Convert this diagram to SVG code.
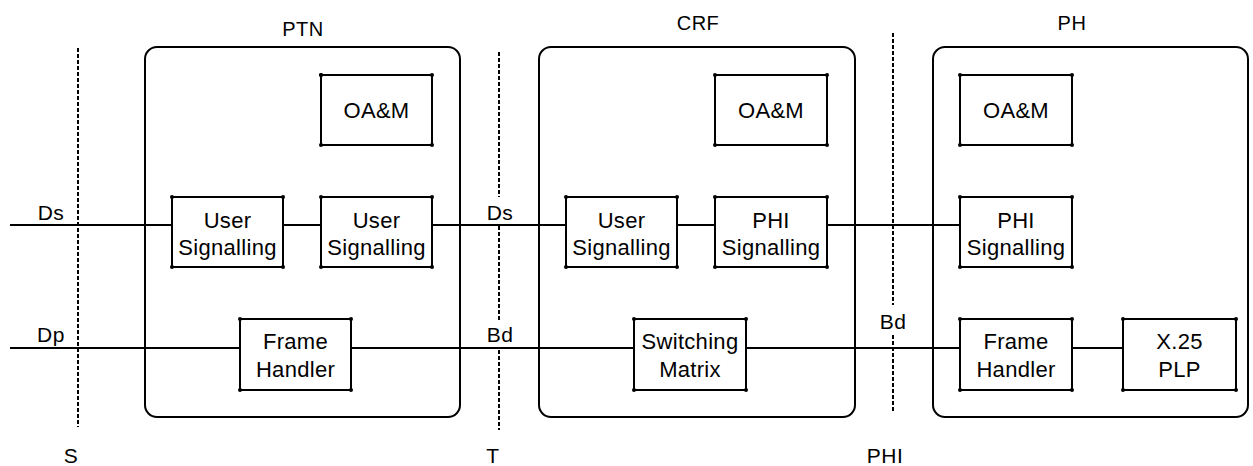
<svg xmlns="http://www.w3.org/2000/svg" width="1253" height="466" viewBox="0 0 1253 466">
<style>
text{font-family:"Liberation Sans",Arial,sans-serif;fill:#000;text-anchor:middle}
.bl{font-size:22px;letter-spacing:0.3px}
.lb{font-size:21px;letter-spacing:0.5px}
.cont{fill:none;stroke:#000;stroke-width:2}
.box{fill:#fff;stroke:#000;stroke-width:2}
.dot{fill:#000}
.ln{stroke:#000;stroke-width:1.8;fill:none}
.dash{stroke:#000;stroke-width:2;stroke-dasharray:4 2;fill:none}
</style>
<defs>
<marker id="cd" viewBox="-3 -3 6 6" markerWidth="6" markerHeight="6" markerUnits="userSpaceOnUse" overflow="visible">
<circle cx="0" cy="0" r="2" fill="#000"/>
</marker>
</defs>
<g id="containers">
<g id="PTN"><rect class="cont" x="145" y="47" width="315" height="370" rx="12"/><text class="lb" x="303" y="36" style="font-size:20px">PTN</text></g>
<g id="CRF"><rect class="cont" x="539" y="47" width="316" height="370" rx="12"/><text class="lb" x="698" y="30" style="font-size:20px">CRF</text></g>
<g id="PH"><rect class="cont" x="933" y="47" width="315" height="370" rx="12"/><text class="lb" x="1072" y="30" style="font-size:20px">PH</text></g>
</g>
<g id="interfaces">
<line class="dash" x1="78" y1="48" x2="78" y2="427"/>
<line class="dash" x1="499" y1="52" x2="499" y2="197"/>
<line class="dash" x1="499" y1="226" x2="499" y2="320"/>
<line class="dash" x1="499" y1="350" x2="499" y2="430"/>
<line class="dash" x1="893" y1="33" x2="893" y2="305"/>
<line class="dash" x1="893" y1="335" x2="893" y2="412"/>
<text class="lb" x="71" y="463">S</text>
<text class="lb" x="493" y="463">T</text>
<text class="lb" x="885" y="463">PHI</text>
</g>
<g id="connectors">
<line class="ln" x1="10" y1="225" x2="172" y2="225"/>
<line class="ln" x1="283" y1="225" x2="321" y2="225"/>
<line class="ln" x1="432" y1="225" x2="566" y2="225"/>
<line class="ln" x1="677" y1="225" x2="715" y2="225"/>
<line class="ln" x1="827" y1="225" x2="960" y2="225"/>
<line class="ln" x1="10" y1="348" x2="240" y2="348"/>
<line class="ln" x1="351" y1="348" x2="634" y2="348"/>
<line class="ln" x1="746" y1="348" x2="960" y2="348"/>
<line class="ln" x1="1072" y1="348" x2="1123" y2="348"/>
<text class="lb" x="51" y="220">Ds</text>
<text class="lb" x="51" y="342">Dp</text>
<text class="lb" x="500" y="220">Ds</text>
<text class="lb" x="500" y="342">Bd</text>
<text class="lb" x="893" y="329">Bd</text>
</g>
<g id="ptn-oam"><path class="box" d="M321,75 H432 V145 H321 Z M321,75" marker-start="url(#cd)"/><path d="M321,75 L432,75 L432,145 L321,145" fill="none" stroke="none" marker-start="url(#cd)" marker-mid="url(#cd)" marker-end="url(#cd)"/><text class="bl" x="376.5" y="118">OA&amp;M</text></g>
<g id="ptn-us1"><path class="box" d="M172,197 H283 V267 H172 Z"/><path d="M172,197 L283,197 L283,267 L172,267" fill="none" stroke="none" marker-start="url(#cd)" marker-mid="url(#cd)" marker-end="url(#cd)"/><text class="bl" x="227.5" y="228">User</text><text class="bl" x="227.5" y="255">Signalling</text></g>
<g id="ptn-us2"><path class="box" d="M321,197 H432 V267 H321 Z"/><path d="M321,197 L432,197 L432,267 L321,267" fill="none" stroke="none" marker-start="url(#cd)" marker-mid="url(#cd)" marker-end="url(#cd)"/><text class="bl" x="376.5" y="228">User</text><text class="bl" x="376.5" y="255">Signalling</text></g>
<g id="ptn-fh"><path class="box" d="M240,319 H351 V390 H240 Z"/><path d="M240,319 L351,319 L351,390 L240,390" fill="none" stroke="none" marker-start="url(#cd)" marker-mid="url(#cd)" marker-end="url(#cd)"/><text class="bl" x="295.5" y="349">Frame</text><text class="bl" x="295.5" y="377">Handler</text></g>
<g id="crf-oam"><path class="box" d="M715,75 H827 V145 H715 Z"/><path d="M715,75 L827,75 L827,145 L715,145" fill="none" stroke="none" marker-start="url(#cd)" marker-mid="url(#cd)" marker-end="url(#cd)"/><text class="bl" x="771" y="118">OA&amp;M</text></g>
<g id="crf-us"><path class="box" d="M566,197 H677 V267 H566 Z"/><path d="M566,197 L677,197 L677,267 L566,267" fill="none" stroke="none" marker-start="url(#cd)" marker-mid="url(#cd)" marker-end="url(#cd)"/><text class="bl" x="621.5" y="228">User</text><text class="bl" x="621.5" y="255">Signalling</text></g>
<g id="crf-phis"><path class="box" d="M715,197 H827 V267 H715 Z"/><path d="M715,197 L827,197 L827,267 L715,267" fill="none" stroke="none" marker-start="url(#cd)" marker-mid="url(#cd)" marker-end="url(#cd)"/><text class="bl" x="771" y="228">PHI</text><text class="bl" x="771" y="255">Signalling</text></g>
<g id="crf-sm"><path class="box" d="M634,319 H746 V390 H634 Z"/><path d="M634,319 L746,319 L746,390 L634,390" fill="none" stroke="none" marker-start="url(#cd)" marker-mid="url(#cd)" marker-end="url(#cd)"/><text class="bl" x="690" y="349">Switching</text><text class="bl" x="690" y="377">Matrix</text></g>
<g id="ph-oam"><path class="box" d="M960,75 H1072 V145 H960 Z"/><path d="M960,75 L1072,75 L1072,145 L960,145" fill="none" stroke="none" marker-start="url(#cd)" marker-mid="url(#cd)" marker-end="url(#cd)"/><text class="bl" x="1016" y="118">OA&amp;M</text></g>
<g id="ph-phis"><path class="box" d="M960,197 H1072 V267 H960 Z"/><path d="M960,197 L1072,197 L1072,267 L960,267" fill="none" stroke="none" marker-start="url(#cd)" marker-mid="url(#cd)" marker-end="url(#cd)"/><text class="bl" x="1016" y="228">PHI</text><text class="bl" x="1016" y="255">Signalling</text></g>
<g id="ph-fh"><path class="box" d="M960,319 H1072 V390 H960 Z"/><path d="M960,319 L1072,319 L1072,390 L960,390" fill="none" stroke="none" marker-start="url(#cd)" marker-mid="url(#cd)" marker-end="url(#cd)"/><text class="bl" x="1016" y="349">Frame</text><text class="bl" x="1016" y="377">Handler</text></g>
<g id="ph-x25"><path class="box" d="M1123,319 H1236 V390 H1123 Z"/><path d="M1123,319 L1236,319 L1236,390 L1123,390" fill="none" stroke="none" marker-start="url(#cd)" marker-mid="url(#cd)" marker-end="url(#cd)"/><text class="bl" x="1179.5" y="349">X.25</text><text class="bl" x="1179.5" y="377">PLP</text></g>
</svg>
